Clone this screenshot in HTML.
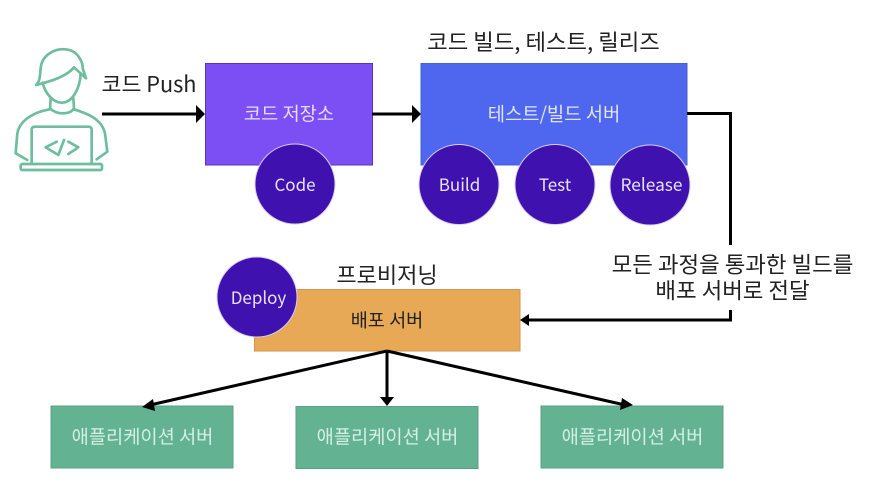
<!DOCTYPE html>
<html><head><meta charset="utf-8"><style>
html,body{margin:0;padding:0;background:#fff}
svg{display:block}
.k{font-family:"Noto Sans CJK KR","Liberation Sans",sans-serif;font-weight:400}
</style></head><body>
<svg width="873" height="492" viewBox="0 0 873 492" xmlns="http://www.w3.org/2000/svg">
<rect width="873" height="492" fill="#fff"/>
<!-- person -->
<g transform="translate(0,30) scale(0.3333)" fill="none" stroke="#6fbd9f" stroke-width="8" stroke-linecap="round" stroke-linejoin="round">
<path d="M108 165C125 150 118 120 125 100C135 70 170 55 195 58C235 60 250 100 248 115L258 145L222 112C200 140 150 155 108 165Z"/>
<path d="M128 158C135 190 160 218 185 218C215 218 240 180 242 130"/>
<path d="M152 205L150 235C170 255 210 255 222 235L220 205"/>
<path d="M150 238C110 245 60 265 52 310L47 370L82 390"/>
<path d="M222 238C260 250 305 265 315 310L322 365L290 388"/>
<path d="M95 400V300Q95 290 105 290H265Q275 290 275 300V400"/>
<rect x="62" y="402" width="244" height="18" rx="5"/>
<path d="M170 335L137 352L170 372M205 335L235 352L205 372M192 330L175 375"/>
</g>
<!-- boxes -->
<rect x="205.5" y="63.5" width="167" height="101.5" fill="#7c4ff5" stroke="#5a35b8" stroke-width="1"/>
<rect x="421" y="63.5" width="266" height="101.5" fill="#4f67ee" stroke="#4a5fd0" stroke-width="1"/>
<rect x="254.5" y="289.5" width="265.5" height="61.5" fill="#e8a957" stroke="#d2974c" stroke-width="1"/>
<rect x="51" y="406" width="182" height="62" fill="#63b393" stroke="#58a284" stroke-width="1"/>
<rect x="296" y="406.5" width="182" height="62" fill="#63b393" stroke="#58a284" stroke-width="1"/>
<rect x="541" y="406" width="182" height="62" fill="#63b393" stroke="#58a284" stroke-width="1"/>
<!-- connectors -->
<g fill="none" stroke="#000" stroke-width="3">
<path d="M102 114H197"/>
<path d="M372 114H414"/>
<path d="M687 113.5H730.5V245"/>
<path d="M730.5 310V320H528"/>
<path d="M387 351V398"/>
<path d="M387 351L150 405"/>
<path d="M387 351L625 405"/>
</g>
<g fill="#000">
<path d="M205 114L196 105V123Z"/>
<path d="M421 114L412 105V123Z"/>
<path d="M520 320L529 314V326Z"/>
<path d="M387 406L380 397H394Z"/>
<path d="M142 407L153 399L155 411Z"/>
<path d="M633 405L622 398L620 410Z"/>
</g>
<!-- circles -->
<g fill="#3f12b0" stroke="#d9cdf3" stroke-width="1">
<circle cx="295" cy="184" r="40"/>
<circle cx="459" cy="184.5" r="40"/>
<circle cx="555" cy="184.5" r="40"/>
<circle cx="650" cy="185" r="40"/>
<circle cx="257" cy="297" r="40"/>
</g>
<!-- labels -->
<g text-anchor="middle">
<text class="k" x="149" y="92" font-size="21.7" fill="#222">코드 Push</text>
<text class="k" x="543.5" y="50" font-size="22.3" fill="#222">코드 빌드, 테스트, 릴리즈</text>
<text class="k" x="289" y="120.5" font-size="18.7" fill="#e6dcff">코드 저장소</text>
<text class="k" x="554" y="120.5" font-size="18.8" fill="#dfe4ff">테스트/빌드 서버</text>
<text class="k" x="295" y="191" font-size="17" fill="#e9e2fb">Code</text>
<text class="k" x="459.5" y="191" font-size="17" fill="#e9e2fb">Build</text>
<text class="k" x="555" y="191" font-size="17" fill="#e9e2fb">Test</text>
<text class="k" x="651.5" y="191" font-size="17.3" fill="#e9e2fb">Release</text>
<text class="k" x="258.5" y="304" font-size="17" fill="#e9e2fb">Deploy</text>
<text class="k" x="387" y="283" font-size="22" fill="#222">프로비저닝</text>
<text class="k" x="387" y="327" font-size="18.6" fill="#222">배포 서버</text>
<text class="k" x="732.5" y="272.5" font-size="22.4" fill="#222">모든 과정을 통과한 빌드를</text>
<text class="k" x="732.5" y="298.5" font-size="22.4" fill="#222">배포 서버로 전달</text>
<text class="k" x="142.5" y="443.5" font-size="18.7" fill="#d6efe4">애플리케이션 서버</text>
<text class="k" x="387.5" y="443.5" font-size="18.7" fill="#d6efe4">애플리케이션 서버</text>
<text class="k" x="632.5" y="443.5" font-size="18.7" fill="#d6efe4">애플리케이션 서버</text>
</g>
</svg>
</body></html>
